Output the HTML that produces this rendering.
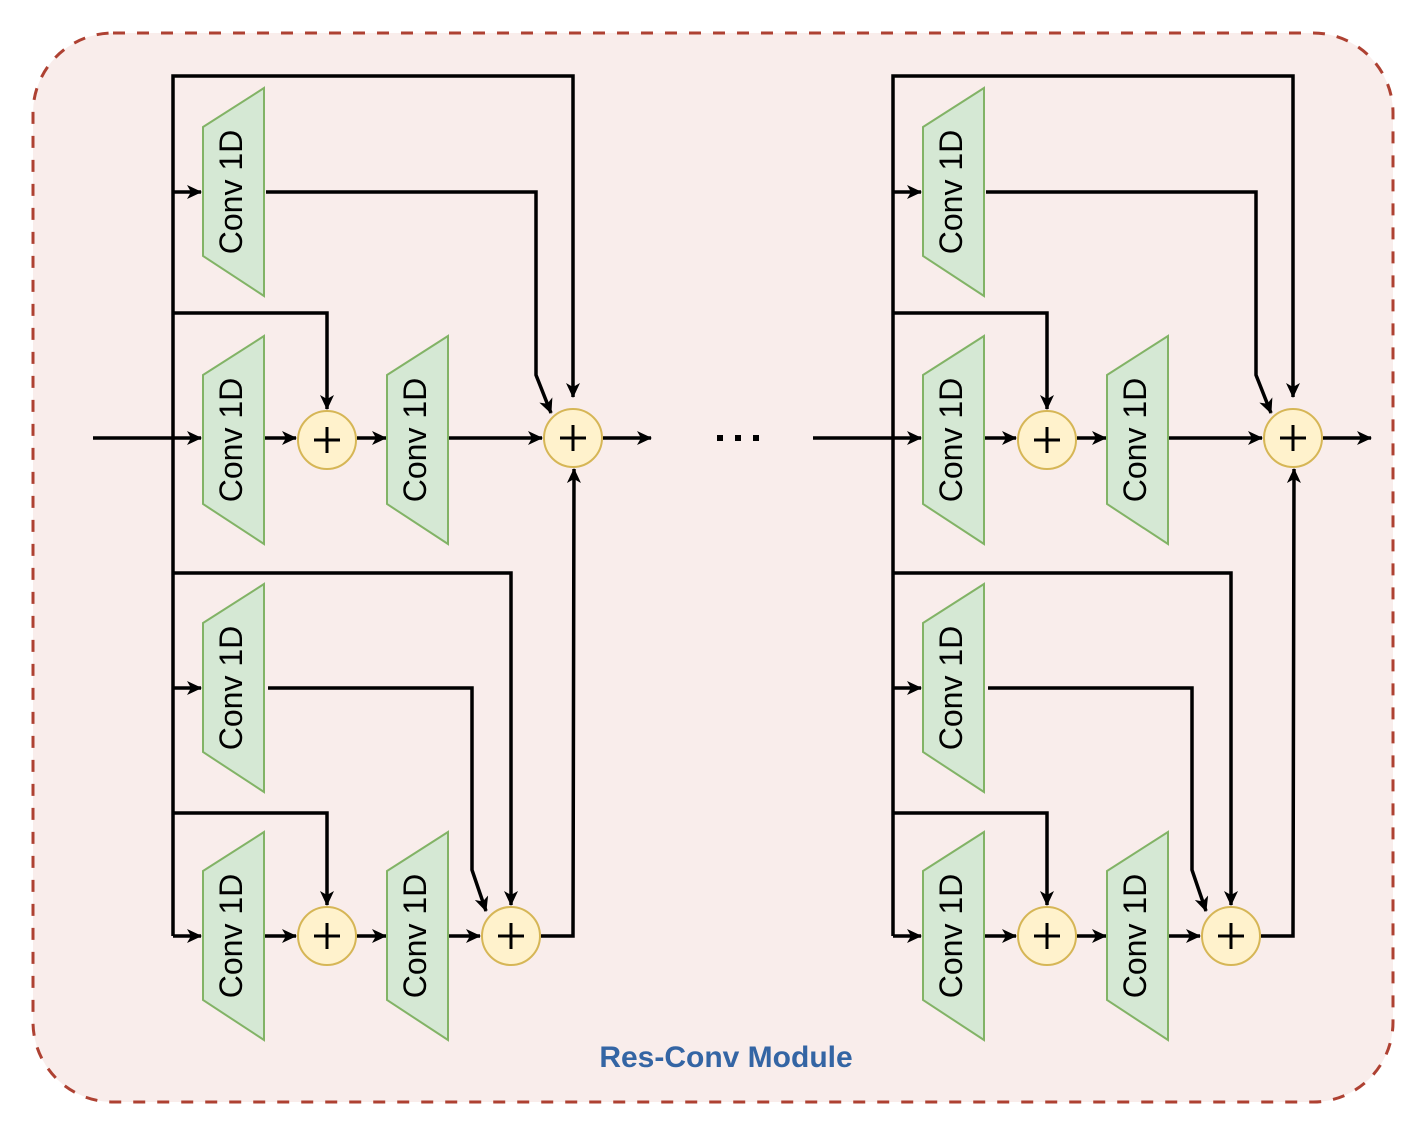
<!DOCTYPE html>
<html><head><meta charset="utf-8"><style>html,body{margin:0;padding:0;background:#fff}svg{display:block}</style></head>
<body>
<svg width="1424" height="1134" viewBox="0 0 1424 1134" xmlns="http://www.w3.org/2000/svg">
<defs>
<marker id="a" markerWidth="16" markerHeight="14" refX="14" refY="7" orient="auto" markerUnits="userSpaceOnUse">
<path d="M0,0 L15,7 L0,14 L4,7 Z" fill="#000"/>
</marker>
<g id="blk">
<g fill="none" stroke="#000" stroke-width="3.5">
<path d="M173,936 V76 H573 V397" marker-end="url(#a)"/>
<path d="M173,192 H201" marker-end="url(#a)"/>
<path d="M266,192 H536 V375 L551,413" marker-end="url(#a)"/>
<path d="M173,313 H327 V409" marker-end="url(#a)"/>
<path d="M173,438 H201" marker-end="url(#a)"/>
<path d="M264,438 H296" marker-end="url(#a)"/>
<path d="M357,438 H386" marker-end="url(#a)"/>
<path d="M448,438 H542" marker-end="url(#a)"/>
<path d="M603,438 H651" marker-end="url(#a)"/>
<path d="M173,573 H511 V905" marker-end="url(#a)"/>
<path d="M173,688 H201" marker-end="url(#a)"/>
<path d="M268,688 H472 V870 L486,911" marker-end="url(#a)"/>
<path d="M173,813 H327 V905" marker-end="url(#a)"/>
<path d="M173,936 H201" marker-end="url(#a)"/>
<path d="M264,936 H296" marker-end="url(#a)"/>
<path d="M357,936 H386" marker-end="url(#a)"/>
<path d="M448,936 H480" marker-end="url(#a)"/>
<path d="M541,936 H573 L574,469" marker-end="url(#a)"/>
</g>
<g fill="#d5e8d4" stroke="#82b366" stroke-width="2">
<path d="M203,127 L264,88 L264,296 L203,256 Z"/>
<path d="M203,375 L264,336 L264,544 L203,504 Z"/>
<path d="M387,375 L448,336 L448,544 L387,504 Z"/>
<path d="M203,623 L264,584 L264,792 L203,752 Z"/>
<path d="M203,871 L264,832 L264,1040 L203,1000 Z"/>
<path d="M387,871 L448,832 L448,1040 L387,1000 Z"/>
</g>
<g font-family="Liberation Sans, sans-serif" font-size="32" text-anchor="middle" fill="#000">
<text transform="translate(242,192) rotate(-90)">Conv 1D</text>
<text transform="translate(242,440) rotate(-90)">Conv 1D</text>
<text transform="translate(426,440) rotate(-90)">Conv 1D</text>
<text transform="translate(242,688) rotate(-90)">Conv 1D</text>
<text transform="translate(242,936) rotate(-90)">Conv 1D</text>
<text transform="translate(426,936) rotate(-90)">Conv 1D</text>
</g>
<g fill="#fff2cc" stroke="#d6b656" stroke-width="2">
<circle cx="327" cy="440" r="29"/>
<circle cx="573" cy="438" r="29"/>
<circle cx="327" cy="936" r="29"/>
<circle cx="511" cy="936" r="29"/>
</g>
<g stroke="#000" stroke-width="3">
<path d="M314,440 H340 M327,427 V453"/>
<path d="M560,438 H586 M573,425 V451"/>
<path d="M314,936 H340 M327,923 V949"/>
<path d="M498,936 H524 M511,923 V949"/>
</g>
</g>
</defs>
<rect x="33" y="33" width="1360" height="1069" rx="80" ry="80" fill="#f9edeb" stroke="#ae4132" stroke-width="3" stroke-dasharray="12,12"/>
<path d="M93,438 H173" stroke="#000" stroke-width="3.5"/>
<path d="M813,438 H893" stroke="#000" stroke-width="3.5"/>
<use href="#blk"/>
<use href="#blk" transform="translate(720,0)"/>
<g fill="#000">
<rect x="717" y="435" width="6" height="6"/>
<rect x="735" y="435" width="6" height="6"/>
<rect x="753" y="435" width="6" height="6"/>
</g>
<text x="726" y="1067" font-family="Liberation Sans, sans-serif" font-size="30" font-weight="bold" fill="#3465a4" text-anchor="middle">Res-Conv Module</text>
</svg>
</body></html>
